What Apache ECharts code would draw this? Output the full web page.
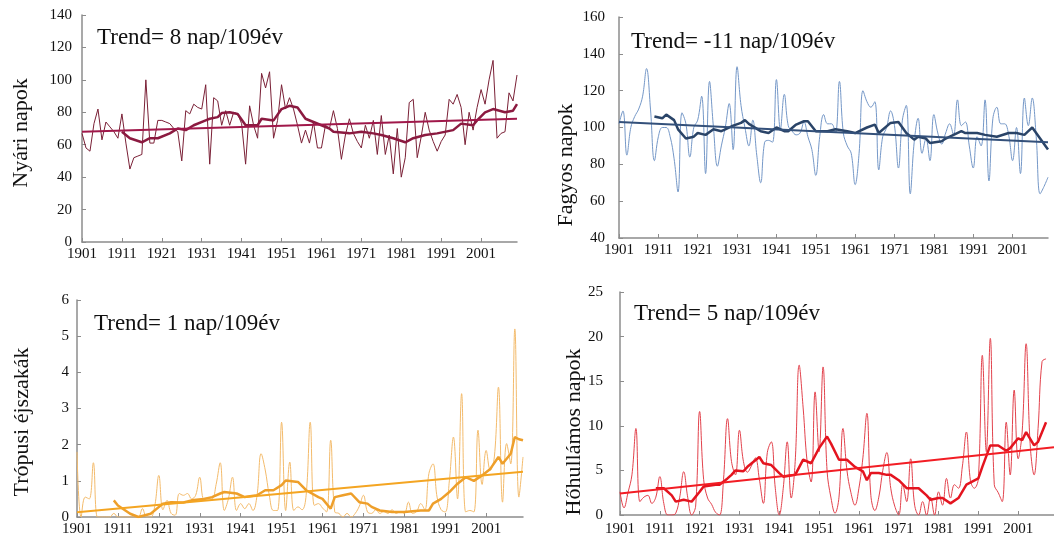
<!DOCTYPE html>
<html><head><meta charset="utf-8">
<script src="https://cdn.jsdelivr.net/npm/echarts/dist/echarts.min.js"></script>
<style>html,body{margin:0;padding:0;background:#fff}#c{width:1054px;height:540px}</style>
</head><body><div id="c"></div>
<script>
// ---- categories ----
const firstYear = 1901, lastYear = 2010;
const years = [];
for (let y = firstYear; y <= lastYear; y++) years.push(String(y));

// ---- Nyári napok (summer days) ----
const nyari = [
 67,58,56,73,82,63,74,71,68,64,
 79,61,45,52,53,54,100,61,61,75,
 75,74,73,70,68,50,81,79,85,83,
 82,97,48,89,87,72,81,72,80,79,
 73,48,84,72,64,104,95,105,64,75,
 97,82,89,82,72,61,69,61,74,58,
 58,72,70,81,70,51,66,76,67,62,
 58,72,64,75,54,78,54,66,42,70,
 40,52,86,88,52,65,80,69,62,56,
 62,66,88,85,91,83,60,80,69,83,
 94,85,100,112,64,67,68,92,87,103];
const nyariSmooth = [[1911,68],[1913,64],[1916,61.5],[1918,64],[1920,64],[1923,67],[1925,70],[1927,69],[1929,72],[1932,75],[1933,76],[1935,77],[1936,79.5],[1938,80],[1940,79],[1942,72],[1945,72],[1946,76],[1949,75],[1951,82],[1953,84],[1955,83],[1957,76],[1959,74],[1961,72],[1963,70],[1964,68],[1968,67],[1971,68],[1974,67],[1976,66],[1979,64],[1982,61.5],[1984,64],[1987,66],[1990,67],[1994,69],[1996,73],[1999,72],[2000,75],[2002,80],[2004,82],[2007,80],[2009,81],[2010,85]];
const nyariTrend = [68, 76];

// ---- Fagyos napok (frost days) ----
const fagyos = [
 102,109,85,100,106,110,117,132,110,82,
 95,100,100,95,83,65,108,102,84,100,
 104,117,75,125,100,79,90,100,113,88,
 133,112,100,90,104,85,70,92,93,92,
 126,99,118,101,98,96,97,103,95,88,
 74,95,107,102,102,97,125,97,90,86,
 69,86,120,114,111,114,77,95,100,109,
 101,78,104,112,64,92,105,86,94,82,
 107,97,91,97,102,96,115,101,103,90,
 78,95,90,115,71,105,111,102,102,96,
 82,100,75,116,101,116,95,64,68,73];
const fagyosSmooth = [[1910,106],[1912,105],[1913,107],[1915,104],[1916,99],[1918,94],[1920,95],[1921,97],[1923,96],[1925,99],[1927,98],[1928,99],[1930,101],[1932,102.5],[1933,104],[1934,102],[1937,98],[1939,97],[1941,100],[1943,98],[1944,98],[1946,101.6],[1948,103.4],[1949,103.4],[1951,98],[1954,98],[1956,99],[1959,98],[1961,97],[1964,100],[1966,101.6],[1967,97],[1970,102.5],[1972,103],[1973,100],[1974,97],[1976,93.4],[1977,95],[1979,94],[1980,91.6],[1983,92.5],[1984,94],[1986,96],[1988,98],[1989,97],[1992,97],[1994,96],[1997,95],[2000,97],[2002,97],[2004,96],[2005,98],[2006,100],[2008,94],[2010,88]];
const fagyosTrend = [103, 92];

// ---- Trópusi éjszakák (tropical nights) ----
const tropusi = [
 1.8,0,0.55,0.5,1.5,0,0,0,0,0.1,
 0,0,0,0,0,0,0.23,0,0,0.3,
 1.15,0.2,0.46,0.1,0.05,0.65,0.6,0.65,0.5,0.6,
 1.1,0.5,0.5,0.5,0.9,1.5,0.18,0.5,1.1,0.18,
 0.37,0.23,0.37,0.18,0.6,1.75,1.3,0.6,0.18,0.18,
 2.62,0.18,1.52,0.18,0.28,0.2,0.6,2.62,0.32,0.37,
 0.25,0.14,2.12,0.14,0.1,0,0.1,0,0.1,0.3,
 0.6,0.14,0.1,0.2,0.1,0.15,0.1,0.2,0.1,0.15,
 0.1,0.41,0.1,0.15,0.37,0.2,1.2,1.47,0.55,0.2,
 0.14,1.0,2.21,0.5,3.41,0.14,0.18,0.14,2.4,0.9,
 1.84,1.29,1.66,3.59,0.41,2.03,1.47,5.2,0.55,1.66];
const tropusiSmooth = [[1910,0.46],[1911,0.32],[1914,0.09],[1916,0],[1919,0.09],[1922,0.37],[1924,0.41],[1927,0.4],[1929,0.46],[1932,0.5],[1934,0.55],[1936,0.65],[1937,0.69],[1940,0.65],[1942,0.55],[1945,0.6],[1947,0.74],[1949,0.74],[1951,0.88],[1952,1.01],[1955,0.97],[1957,0.74],[1960,0.55],[1961,0.5],[1963,0.23],[1964,0.55],[1966,0.6],[1968,0.65],[1970,0.41],[1972,0.37],[1973,0.28],[1975,0.18],[1978,0.14],[1981,0.14],[1985,0.18],[1987,0.18],[1988,0.37],[1990,0.5],[1992,0.69],[1994,0.92],[1996,1.1],[1998,1.0],[2000,1.15],[2002,1.33],[2004,1.66],[2005,1.47],[2007,1.75],[2008,2.21],[2009,2.15],[2010,2.12]];
const tropusiTrend = [0.13, 1.25];

// ---- Hőhullámos napok (heat-wave days) ----
const hohullam = [
 2.6,0.8,2.5,4.5,9.7,1.5,2.0,2.2,1.3,2.0,
 4.3,1.3,0,0,0.2,2.0,4.85,2.0,0,1.0,
 11.6,4.0,1.9,1.2,0.3,0,4.0,10.8,6.0,4.5,
 9.5,6.0,4.8,5.5,6.4,4.0,1.3,7.0,8.2,3.0,
 0,3.0,8.2,1.9,6.0,16.8,12.0,6.0,3.7,13.8,
 7.1,16.6,5.0,1.9,0.2,2.0,9.7,5.0,2.5,1.1,
 3.0,6.4,11.4,2.2,0.5,2.0,5.0,7.0,3.0,1.0,
 0,3.4,1.5,6.3,1.1,0,1.5,0,2.0,0,
 2.6,1.1,4.1,1.9,3.4,3.0,5.5,9.3,3.9,3.0,
 4.1,17.9,7.1,19.8,3.4,2.5,1.5,10.4,4.5,14.0,
 6.3,9.3,19.2,8.0,4.5,9.7,17.2,17.5,null,null];
const hohullamSmooth = [[1910,3.0],[1912,3.0],[1914,2.2],[1915,1.5],[1917,1.7],[1919,1.5],[1921,2.6],[1922,3.2],[1925,3.4],[1926,3.4],[1928,4.1],[1929,4.5],[1930,5.0],[1932,4.9],[1933,5.4],[1936,6.5],[1937,5.8],[1939,5.6],[1941,4.7],[1942,4.3],[1945,4.5],[1947,6.2],[1949,5.8],[1951,7.5],[1953,8.8],[1954,8.0],[1956,6.2],[1958,6.2],[1960,5.4],[1962,4.9],[1963,3.9],[1964,4.7],[1966,4.7],[1968,4.5],[1969,4.5],[1971,3.9],[1973,3.0],[1976,3.0],[1978,2.2],[1979,1.7],[1981,1.9],[1982,1.9],[1984,1.3],[1986,1.9],[1988,3.4],[1991,4.1],[1992,5.4],[1994,7.8],[1996,7.8],[1998,7.2],[1999,7.5],[2001,8.6],[2002,8.4],[2003,9.3],[2005,7.8],[2006,8.2],[2008,10.4]];
const hohullamTrend = [2.4, 7.6];

// ---- texts ----
const trendTexts = ['Trend= 8 nap/109év', 'Trend= -11 nap/109év', 'Trend= 1 nap/109év', 'Trend= 5 nap/109év'];
const axisNames = ['Nyári napok', 'Fagyos napok', 'Trópusi éjszakák', 'Hőhullámos napok'];

// ---- layout / style ----
const FONT = '"Liberation Serif", "Times New Roman", serif';
const panels = [
  {raw: nyari, sm: nyariSmooth, tr: nyariTrend, grid:{left:82, top:15, width:435, height:227}, y:[0,140,20], smooth:false,
   col:['#7a2036','#8b1a40','#a0184a'], title:[97,26], name:[21,133], ym:10, xm:5},
  {raw: fagyos, sm: fagyosSmooth, tr: fagyosTrend, grid:{left:619, top:17, width:429, height:221}, y:[40,160,20], smooth:0.4,
   col:['#7598c8','#2a4468','#33507a'], title:[631,30], name:[566,165], ym:14, xm:5},
  {raw: tropusi, sm: tropusiSmooth, tr: tropusiTrend, grid:{left:77, top:300, width:446, height:217}, y:[0,6,1], smooth:0.4,
   col:['#f3bb6c','#ee9f2a','#f4a522'], title:[94,312], name:[22,422], ym:8, xm:5},
  {raw: hohullam, sm: hohullamSmooth, tr: hohullamTrend, grid:{left:620, top:292, width:443, height:223}, y:[0,25,5], smooth:0.4,
   col:['#e2424c','#e4141f','#f21d24'], title:[634,302], name:[574,432], ym:17, xm:7}
];

const axisGray = '#8c8c8c';
const option = {animation:false, backgroundColor:'#fff', grid:[], xAxis:[], yAxis:[], series:[], title:[], graphic:[]};
panels.forEach((p, k) => {
  option.grid.push(Object.assign({containLabel:false}, p.grid));
  option.xAxis.push({type:'category', gridIndex:k, data:years, boundaryGap:false,
    axisLine:{lineStyle:{color:axisGray, width:1.5}},
    axisTick:{inside:true, interval:9, length:4, lineStyle:{color:axisGray}},
    axisLabel:{interval:9, color:'#111', fontFamily:FONT, fontSize:15, margin:p.xm},
    splitLine:{show:false}});
  option.yAxis.push({type:'value', gridIndex:k, min:p.y[0], max:p.y[1], interval:p.y[2],
    axisLine:{show:true, lineStyle:{color:axisGray, width:1.5}},
    axisTick:{show:true, inside:true, length:4, lineStyle:{color:axisGray}},
    axisLabel:{color:'#111', fontFamily:FONT, fontSize:15, margin:p.ym},
    splitLine:{show:false}});
  option.series.push({type:'line', xAxisIndex:k, yAxisIndex:k, data:p.raw, symbol:'none', smooth:p.smooth,
    lineStyle:{color:p.col[0], width:1}, z:2});
  option.series.push({type:'line', xAxisIndex:k, yAxisIndex:k, symbol:'none', connectNulls:true,
    data:p.sm.map(d => [d[0]-firstYear, d[1]]), lineStyle:{color:p.col[1], width:2.5}, z:3});
  option.series.push({type:'line', xAxisIndex:k, yAxisIndex:k, symbol:'none',
    data:[[0, p.tr[0]], [lastYear-firstYear, p.tr[1]]], lineStyle:{color:p.col[2], width:2}, z:4});
  option.title.push({text:trendTexts[k], left:p.title[0], top:p.title[1], padding:0,
    textStyle:{fontFamily:FONT, fontSize:23, fontWeight:'normal', color:'#111'}});
  option.graphic.push({type:'text', x:p.name[0], y:p.name[1], rotation:Math.PI/2,
    style:{text:axisNames[k], fontFamily:FONT, fontSize:22, fill:'#111', textAlign:'center', textVerticalAlign:'middle'}});
});

const chart = echarts.init(document.getElementById('c'), null, {renderer:'canvas'});
chart.setOption(option);
</script>
</body></html>
